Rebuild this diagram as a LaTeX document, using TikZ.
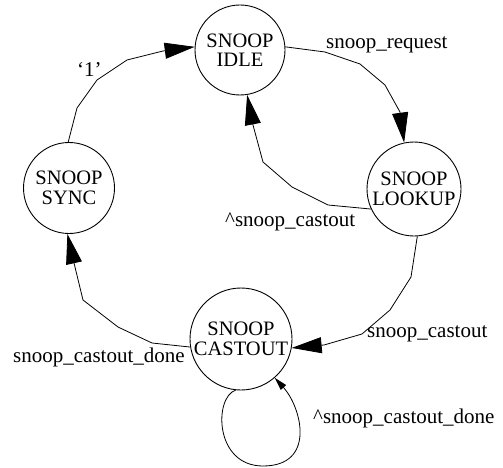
\documentclass[tikz,border=0pt]{standalone}
\usepackage{fontspec}
\setmainfont{Liberation Serif}
\usetikzlibrary{arrows.meta}
\tikzset{
  state/.style={circle,draw,line width=0.9pt,inner sep=0pt,align=center,
    font=\fontsize{20.5}{19.5}\selectfont},
  lbl/.style={anchor=base west,inner sep=0pt,font=\fontsize{21}{20}\selectfont},
  edge/.style={line width=0.8pt,-{Triangle[length=30pt,width=16pt]}},
  loopedge/.style={line width=0.8pt,-{Triangle[length=13pt,width=7pt]}}
}
\begin{document}
\begin{tikzpicture}[x=1pt,y=-1pt]
\useasboundingbox (0,0) rectangle (503,468);
\node[state,minimum size=90pt] (idle) at (240,50) {SNOOP\\IDLE};
\node[state,minimum size=94pt] (lookup) at (414,189) {SNOOP\\LOOKUP};
\node[state,minimum size=91pt] (sync) at (69,188) {SNOOP\\SYNC};
\node[state,minimum size=102pt] (castout) at (241,339) {SNOOP\\CASTOUT};

\draw[edge] (idle.4) -- (325,52) -- (360,64) -- (385,85) -- (400,112) -- (lookup.102);
\draw[edge] (lookup.205) -- (328,205) -- (292,187) -- (263,162) -- (253,125) -- (idle.-81);
\draw[edge] (lookup.-86) -- (411,277) -- (390,310) -- (362,334) -- (324,345) -- (castout.-10);
\draw[edge] (castout.189) -- (152,343) -- (118,327) -- (83,300) -- (74,263) -- (sync.-92);
\draw[edge] (sync.91) -- (77,108) -- (97,80) -- (127,60) -- (163,51) -- (idle.176);
\draw[loopedge] (castout.-96) .. controls (214,397) and (214,466) .. (263,466)
   .. controls (316,466) and (302,408) .. (castout.-49);

\node[lbl] (l1) at (326,49) {snoop\_request};
\node[lbl] (l2) at (225,226) {\textasciicircum snoop\_castout};
\node[lbl] (l3) at (367,337) {snoop\_castout};
\node[lbl] (l4) at (13,362) {snoop\_castout\_done};
\node[lbl] (l5) at (313,423) {\textasciicircum snoop\_castout\_done};
\node[lbl] (l6) at (77,77) {‘1’};
\end{tikzpicture}
\end{document}
